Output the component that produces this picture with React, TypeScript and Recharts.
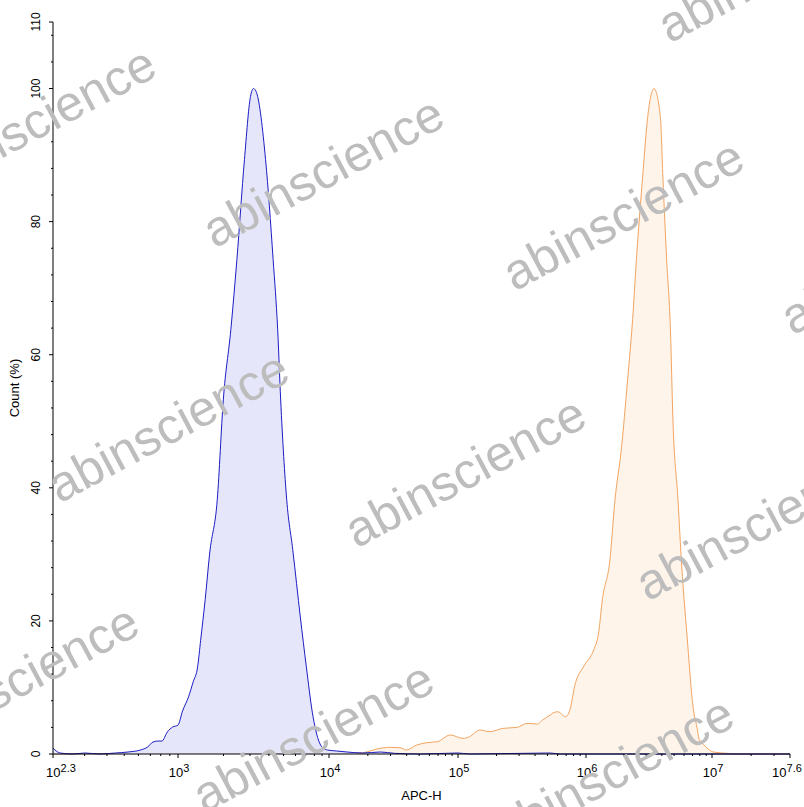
import React from 'react';
import { AreaChart, Area, XAxis, YAxis } from 'recharts';

// log10(APC-H) / percent
const BLUE_LOG = [2.3, 2.34, 2.41, 2.48, 2.56, 2.65, 2.72, 2.79, 2.83, 2.86, 2.89, 2.91, 2.94, 2.97, 3.0, 3.03, 3.07, 3.1, 3.13, 3.15, 3.18, 3.21, 3.26, 3.3, 3.35, 3.39, 3.44, 3.48, 3.5, 3.52, 3.58, 3.63, 3.66, 3.68, 3.72, 3.76, 3.81, 3.85, 3.89, 3.93, 3.96, 3.99, 4.06, 4.14, 4.26, 4.4, 4.51, 4.71, 5.0, 5.09, 5.72, 5.8, 7.6];
const BLUE_PCT = [0.9, 0.15, 0, 0.15, 0, 0.15, 0.3, 0.6, 1.05, 1.8, 1.95, 1.95, 3.3, 4.05, 4.35, 6.45, 8.6, 10.8, 13.1, 17.1, 23.2, 30.2, 38.2, 53.2, 63.8, 74.3, 89.3, 98.8, 100, 99.4, 89.3, 74.3, 63.8, 53.2, 38.2, 30.7, 20.6, 13.1, 6.2, 2.1, 0.9, 0.6, 0.45, 0.3, 0.15, 0.3, 0.1, 0, 0.15, 0, 0.15, 0, 0];

const ORANGE_LOG = [2.3, 2.56, 2.84, 3.08, 3.34, 3.68, 3.94, 4.12, 4.26, 4.37, 4.47, 4.55, 4.6, 4.68, 4.76, 4.84, 4.94, 5.04, 5.09, 5.17, 5.25, 5.35, 5.46, 5.54, 5.62, 5.66, 5.72, 5.74, 5.78, 5.84, 5.88, 5.91, 5.98, 6.06, 6.1, 6.13, 6.19, 6.23, 6.28, 6.33, 6.37, 6.4, 6.45, 6.49, 6.54, 6.59, 6.61, 6.64, 6.67, 6.69, 6.73, 6.76, 6.8, 6.85, 6.88, 6.9, 6.93, 6.97, 7.01, 7.12, 7.18, 7.6];
const ORANGE_PCT = [0, 0.05, 0.15, 0.25, 0.1, 0.15, 0.45, 0.15, 0.2, 0.75, 1.0, 0.95, 0.6, 1.35, 1.7, 1.85, 2.85, 2.35, 2.6, 3.6, 3.35, 3.85, 4.0, 4.6, 4.5, 5.1, 5.85, 6.15, 6.35, 5.6, 7.05, 10.1, 13.1, 15.6, 18.2, 23.2, 29.2, 38.2, 45.7, 56.2, 65.3, 74.3, 86.8, 95.8, 100, 95.8, 86.8, 74.3, 63.8, 50.2, 38.2, 28.1, 18.2, 7.05, 4.05, 2.1, 1.5, 0.75, 0.3, 0.1, 0, 0];

// axis: labelled decades and where they sit along the (non-uniform) scale
const X_DECADES = [2.3, 3, 4, 5, 6, 7, 7.6];
const X_DECADE_POS = [0, 125, 276, 405, 533, 659, 737];

const Y_TICKS = [0, 4, 8, 12, 16, 20, 24, 28, 32, 36, 40, 44, 48, 52, 56, 60, 64, 68, 72, 76, 80, 84, 88, 92, 96, 100, 104, 108, 110];
const Y_LABELS = [0, 20, 40, 60, 80, 100, 110];

const WATERMARKS = [
  [780, -30], [37, 125], [325, 175], [625, 218], [903, 262],
  [170, 430], [467, 475], [758, 528],
  [20, 683], [315, 740], [615, 775],
];

const FONT = '"Liberation Sans", Arial, sans-serif';

const pos = (lg: number) => {
  for (let i = 0; i < X_DECADES.length - 1; i++) {
    if (lg <= X_DECADES[i + 1]) {
      const t = (lg - X_DECADES[i]) / (X_DECADES[i + 1] - X_DECADES[i]);
      return X_DECADE_POS[i] + t * (X_DECADE_POS[i + 1] - X_DECADE_POS[i]);
    }
  }
  return X_DECADE_POS[X_DECADE_POS.length - 1];
};

const rows = new Map<number, any>();
BLUE_LOG.forEach((lg, i) => {
  const p = pos(lg);
  const r = rows.get(p) ?? { p };
  r.blue = BLUE_PCT[i];
  rows.set(p, r);
});
ORANGE_LOG.forEach((lg, i) => {
  const p = pos(lg);
  const r = rows.get(p) ?? { p };
  r.orange = ORANGE_PCT[i];
  rows.set(p, r);
});
const data = [...rows.values()].sort((a, b) => a.p - b.p);

const minorTicks: number[] = [];
for (let d = 2; d <= 7; d++) {
  for (let k = 2; k <= 9; k++) {
    const lg = d + Math.log10(k);
    if (lg > 2.31 && lg < 7.59) minorTicks.push(pos(lg));
  }
}
const xTicks = [...X_DECADE_POS, ...minorTicks].sort((a, b) => a - b);

const XTick = ({ x, y, payload }: any) => {
  const idx = X_DECADE_POS.indexOf(payload.value);
  if (idx < 0) return <line x1={x} x2={x} y1={y} y2={y + 2} stroke="#000" />;
  const dx = idx === 0 ? 8 : idx === X_DECADES.length - 1 ? -3 : 1;
  return (
    <g>
      <line x1={x} x2={x} y1={y} y2={y + 4} stroke="#000" />
      <text x={x + dx} y={y + 23} textAnchor="middle" fontSize={13} fontFamily={FONT} fill="#000">
        10<tspan dy={-5} fontSize={11}>{X_DECADES[idx]}</tspan>
      </text>
    </g>
  );
};

const YTick = ({ x, y, payload }: any) => {
  const v = payload.value;
  const major = Y_LABELS.includes(v);
  return (
    <g>
      <line x1={x - (major ? 4 : 2)} x2={x} y1={y} y2={y} stroke="#000" />
      {major && (
        <text transform={`rotate(-90 ${x - 13} ${y})`} x={x - 13} y={y} textAnchor="middle" fontSize={12} fontFamily={FONT} fill="#000">
          {v}
        </text>
      )}
    </g>
  );
};

export default function App() {
  return (
    <div style={{ position: 'absolute', left: 0, top: 0, width: 804, height: 807, background: '#fff' }}>
      <AreaChart width={804} height={807} data={data} margin={{ top: 22, right: 14, left: 23, bottom: 23 }}>
        <XAxis
          dataKey="p"
          type="number"
          domain={[0, 737]}
          ticks={xTicks}
          interval={0}
          tick={<XTick />}
          tickSize={0}
          tickMargin={0}
          height={30}
          axisLine={{ stroke: '#000' }}
          label={({ viewBox }: any) => (
            <text x={viewBox.x + viewBox.width / 2} y={viewBox.y + 46} textAnchor="middle" fontSize={13} fontFamily={FONT} fill="#000">
              APC-H
            </text>
          )}
        />
        <XAxis xAxisId="top" orientation="top" type="number" domain={[0, 737]} tick={false} tickLine={false} height={0} axisLine={{ stroke: '#000' }} />
        <YAxis
          type="number"
          domain={[0, 110]}
          ticks={Y_TICKS}
          interval={0}
          tick={<YTick />}
          tickSize={0}
          tickMargin={0}
          width={30}
          axisLine={{ stroke: '#000' }}
          label={({ viewBox }: any) => {
            const cx = viewBox.x - 4;
            const cy = viewBox.y + viewBox.height / 2;
            return (
              <text transform={`rotate(-90 ${cx} ${cy})`} x={cx} y={cy} textAnchor="middle" fontSize={13} fontFamily={FONT} fill="#000">
                Count (%)
              </text>
            );
          }}
        />
        <YAxis yAxisId="right" orientation="right" type="number" domain={[0, 110]} tick={false} tickLine={false} width={0} axisLine={{ stroke: '#000' }} />
        <Area
          type="monotone"
          dataKey="orange"
          stroke="#f2a460"
          strokeWidth={1}
          fill="#fff4ea"
          fillOpacity={1}
          connectNulls
          dot={false}
          activeDot={false}
          isAnimationActive={false}
        />
        <Area
          type="monotone"
          dataKey="blue"
          stroke="#1c1cc4"
          strokeWidth={1}
          fill="#e6e6fa"
          fillOpacity={1}
          connectNulls
          dot={false}
          activeDot={false}
          isAnimationActive={false}
        />
      </AreaChart>
      <svg width={804} height={807} style={{ position: 'absolute', left: 0, top: 0, pointerEvents: 'none' }}>
        {WATERMARKS.map(([cx, cy], i) => (
          <text
            key={i}
            x={cx}
            y={cy}
            transform={`rotate(-28 ${cx} ${cy})`}
            textAnchor="middle"
            dominantBaseline="middle"
            fontSize={50}
            fontFamily={FONT}
            fill="#bdbdbd"
          >
            abinscience
          </text>
        ))}
      </svg>
    </div>
  );
}
